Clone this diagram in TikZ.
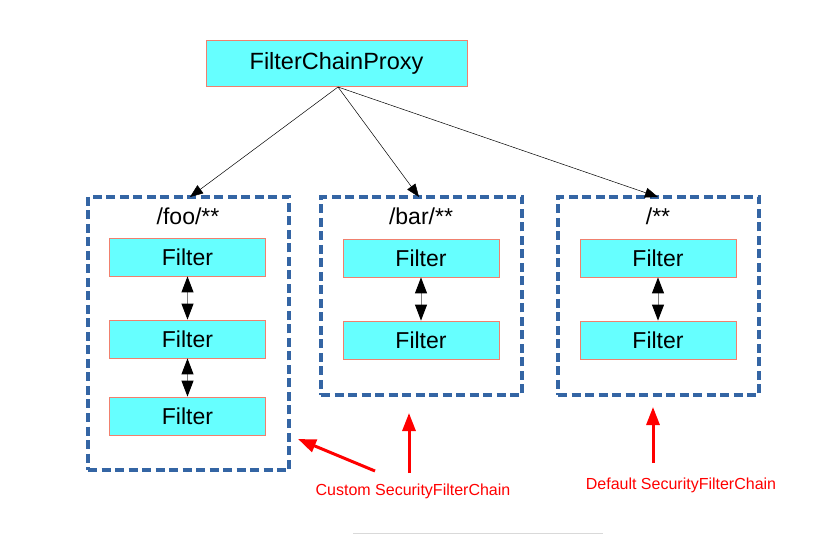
\documentclass[tikz,border=0pt]{standalone}
\usepackage{fontspec}
\setmainfont{Liberation Sans}
\usetikzlibrary{arrows.meta}
\definecolor{boxfill}{RGB}{102,255,255}
\definecolor{boxline}{RGB}{240,128,110}
\definecolor{chainblue}{RGB}{52,101,164}
\definecolor{notered}{RGB}{255,0,0}
\tikzset{
  filterbox/.style={draw=boxline, fill=boxfill, line width=0.8pt, minimum width=156pt, minimum height=38pt, inner sep=0pt, font=\fontsize{23}{27}\selectfont},
  proxybox/.style={draw=boxline, fill=boxfill, line width=0.8pt, minimum width=261pt, minimum height=46pt, inner sep=0pt, font=\fontsize{23.5}{28}\selectfont},
  chainbox/.style={draw=chainblue, line width=3.5pt, dash pattern=on 9pt off 4.5pt, inner sep=0pt},
  pathlabel/.style={inner sep=0pt, font=\fontsize{23}{27}\selectfont},
  routearrow/.style={line width=0.5pt, -{Triangle[length=13pt,width=10pt]}},
  linkarrow/.style={draw=gray, line width=1pt, {Triangle[length=16pt,width=12pt,color=black]}-{Triangle[length=16pt,width=12pt,color=black]}},
  notearrow/.style={draw=notered, line width=3pt, -{Triangle[length=18pt,width=13pt]}},
  notelabel/.style={text=notered, inner sep=0pt, font=\fontsize{16}{19}\selectfont}
}
\begin{document}
\begin{tikzpicture}[x=1pt,y=-1pt]
\useasboundingbox (0,0) rectangle (830,534);
% proxy
\node[proxybox] (proxy) at (336.5,63) {FilterChainProxy};
% chain boxes
\node[chainbox, minimum width=201pt, minimum height=273pt] (c1) at (188.5,333.5) {};
\node[chainbox, minimum width=201pt, minimum height=198pt] (c2) at (421.5,296) {};
\node[chainbox, minimum width=201pt, minimum height=198pt] (c3) at (658.5,296) {};
% path labels
\node[pathlabel] (l1) at (188,216) {/foo/**};
\node[pathlabel] (l2) at (421,216) {/bar/**};
\node[pathlabel] (l3) at (658,216) {/**};
% filters
\node[filterbox] (f11) at (187.5,257) {Filter};
\node[filterbox] (f12) at (187.5,339) {Filter};
\node[filterbox] (f13) at (187.5,416) {Filter};
\node[filterbox] (f21) at (421,258) {Filter};
\node[filterbox] (f22) at (421,340) {Filter};
\node[filterbox] (f31) at (658,258) {Filter};
\node[filterbox] (f32) at (658,340) {Filter};
% links between filters
\draw[linkarrow] (f11.south) -- (f12.north);
\draw[linkarrow] (f12.south) -- (f13.north);
\draw[linkarrow] (f21.south) -- (f22.north);
\draw[linkarrow] (f31.south) -- (f32.north);
% routes
\coordinate (ps) at (338,87);
\coordinate (e1) at (190,197);
\coordinate (e2) at (419,197);
\coordinate (e3) at (658,197);
\draw[routearrow] (ps) -- (e1);
\draw[routearrow] (ps) -- (e2);
\draw[routearrow] (ps) -- (e3);
% notes
\node[notelabel] (n1) at (413,491) {Custom SecurityFilterChain};
\node[notelabel] (n2) at (681,485) {Default SecurityFilterChain};
\coordinate (a1s) at (375,471);
\coordinate (a1e) at (298,439);
\coordinate (a2s) at (409,473);
\coordinate (a2e) at (409,413);
\coordinate (a3s) at (653,463);
\coordinate (a3e) at (653,407);
\draw[notearrow] (a1s) -- (a1e);
\draw[notearrow] (a2s) -- (a2e);
\draw[notearrow] (a3s) -- (a3e);
% faint rule at bottom
\coordinate (r1) at (353,533);
\coordinate (r2) at (603,533);
\draw[draw=black!15, line width=0.8pt] (r1) -- (r2);
\end{tikzpicture}
\end{document}
